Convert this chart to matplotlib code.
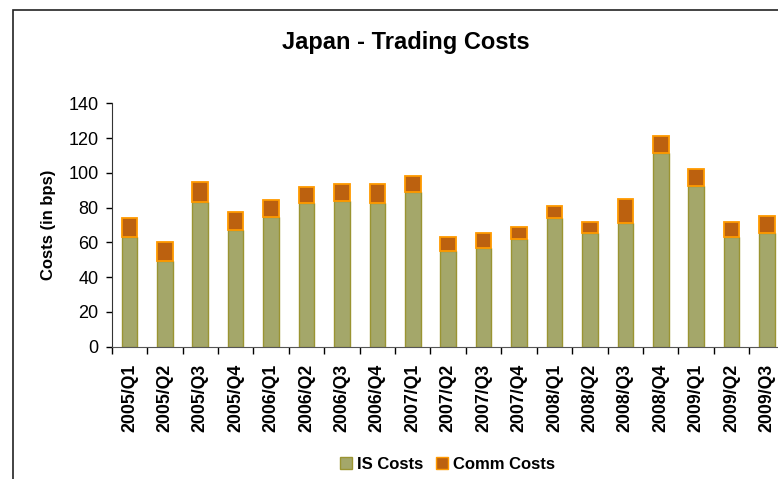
import numpy as np
import matplotlib
matplotlib.use('Agg')
import matplotlib.pyplot as plt
from matplotlib.patches import Rectangle, Patch

plt.rcParams['font.family'] = ['Liberation Sans', 'DejaVu Sans']

# 数据
quarters = ['2005/Q1', '2005/Q2', '2005/Q3', '2005/Q4', '2006/Q1', '2006/Q2',
            '2006/Q3', '2006/Q4', '2007/Q1', '2007/Q2', '2007/Q3', '2007/Q4',
            '2008/Q1', '2008/Q2', '2008/Q3', '2008/Q4', '2009/Q1', '2009/Q2',
            '2009/Q3']
is_costs = [63.1, 49.3, 83.0, 66.9, 74.6, 82.8, 84.0, 82.8, 89.0, 55.2,
            56.8, 61.9, 73.8, 65.4, 71.3, 111.2, 92.4, 62.9, 65.4]
total_costs = [74.2, 60.4, 94.5, 77.5, 84.4, 92.0, 93.6, 93.6, 98.0, 63.1,
               65.6, 69.0, 80.9, 71.5, 85.1, 121.0, 102.2, 71.5, 75.0]
comm_costs = [t - i for t, i in zip(total_costs, is_costs)]

is_face, is_edge = '#A4A76A', '#9A9432'
comm_face, comm_edge = '#BC610F', '#FF9A00'

fig = plt.figure(figsize=(7.78, 4.79), dpi=100)
# 外框（右侧和底部被裁掉）
fig.patches.append(Rectangle((0.0163, -0.05), 1.2, 0.979 + 0.05,
                             transform=fig.transFigure, fill=False,
                             edgecolor='#222222', linewidth=1.2))

ax = fig.add_axes([0.1436, 0.2762, 0.865, 0.5081])
x = np.arange(len(quarters))
ax.bar(x, is_costs, width=0.44, color=is_face, edgecolor=is_edge,
       linewidth=1.0, label='IS Costs')
ax.bar(x, comm_costs, width=0.44, bottom=is_costs, color=comm_face,
       edgecolor=comm_edge, linewidth=1.3, label='Comm Costs')

ax.set_xlim(-0.5, len(quarters) - 0.5)
ax.set_ylim(0, 140)
ax.set_yticks(range(0, 141, 20))
ax.tick_params(axis='y', labelsize=13, length=4.5, width=1, pad=5)
ax.set_xticks(x)
ax.set_xticklabels(quarters, rotation=90, fontsize=12.8, fontweight='bold')
ax.set_xticks(np.arange(-0.5, len(quarters), 1), minor=True)
ax.tick_params(axis='x', which='major', length=0, pad=12)
ax.tick_params(axis='x', which='minor', length=5, width=1)
for s in ['top', 'right']:
    ax.spines[s].set_visible(False)
ax.spines['left'].set_color('#333333')
ax.spines['bottom'].set_color('#555555')

ax.set_ylabel('Costs (in bps)', fontsize=12, fontweight='bold', labelpad=9)
fig.text(0.521, 0.912, 'Japan - Trading Costs', ha='center', va='center',
         fontsize=17, fontweight='bold')

handles = [Patch(facecolor=is_face, edgecolor=is_edge, label='IS Costs'),
           Patch(facecolor=comm_face, edgecolor=comm_edge, label='Comm Costs')]
fig.legend(handles=handles, loc='center', bbox_to_anchor=(0.575, 0.03),
           ncol=2, frameon=False, prop={'size': 12, 'weight': 'bold'},
           handlelength=0.7, handleheight=0.7, handletextpad=0.3,
           columnspacing=0.8)

fig.savefig('out.png', dpi=100)
